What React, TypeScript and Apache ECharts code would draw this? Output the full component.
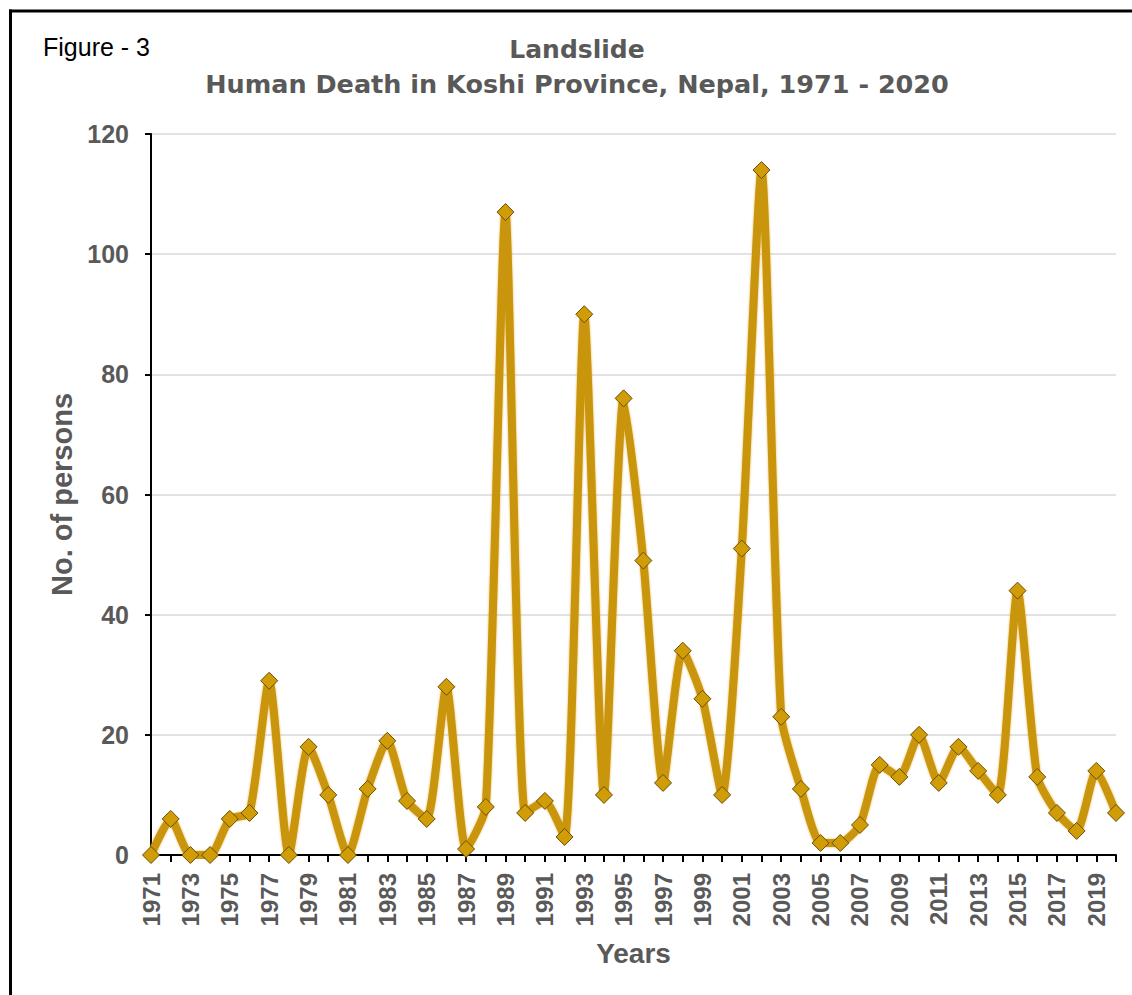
import React, { useEffect, useRef } from "react";
import * as echarts from "echarts";

const years: string[] = [
  "1971","1972","1973","1974","1975","1976","1977","1978","1979","1980",
  "1981","1982","1983","1984","1985","1986","1987","1988","1989","1990",
  "1991","1992","1993","1994","1995","1996","1997","1998","1999","2000",
  "2001","2002","2003","2004","2005","2006","2007","2008","2009","2010",
  "2011","2012","2013","2014","2015","2016","2017","2018","2019","2020",
];

const deaths: number[] = [
  0, 6, 0, 0, 6, 7, 29, 0, 18, 10,
  0, 11, 19, 9, 6, 28, 1, 8, 107, 7,
  9, 3, 90, 10, 76, 49, 12, 34, 26, 10,
  51, 114, 23, 11, 2, 2, 5, 15, 13, 20,
  12, 18, 14, 10, 44, 13, 7, 4, 14, 7,
];

const titleLine1 = "Landslide";
const titleLine2 = "Human Death in Koshi Province, Nepal, 1971 - 2020";
const figureLabel = "Figure - 3";
const yAxisName = "No. of persons";
const xAxisName = "Years";

export default function App() {
  const ref = useRef<HTMLDivElement>(null);

  useEffect(() => {
    if (!ref.current) return;
    const chart = echarts.init(ref.current, undefined, { renderer: "svg" });
    const grey = "#595959";
    const font = "'Liberation Sans', Arial, sans-serif";
    const wide = "'DejaVu Sans', sans-serif";
    chart.setOption({
      animation: false,
      backgroundColor: "#ffffff",
      grid: { left: 151, top: 134, right: 16, bottom: 140, containLabel: false },
      graphic: [
        { type: "line", shape: { x1: 10.5, y1: 9.5, x2: 10.5, y2: 1000 }, style: { stroke: "#000", lineWidth: 3 } },
        { type: "line", shape: { x1: 9, y1: 11, x2: 1140, y2: 11 }, style: { stroke: "#000", lineWidth: 3 } },
        {
          type: "text", left: 43, top: 34,
          style: { text: figureLabel, fill: "#000", font: `25px ${font}` },
        },
        {
          type: "text", x: 577, y: 37,
          style: { text: titleLine1, fill: grey, font: `bold 25px ${wide}`, textAlign: "center", textVerticalAlign: "top" },
        },
        {
          type: "text", x: 577, y: 71,
          style: { text: titleLine2, fill: grey, font: `bold 25.5px ${wide}`, textAlign: "center", textVerticalAlign: "top" },
        },
      ],
      xAxis: {
        type: "category",
        data: years,
        boundaryGap: false,
        name: xAxisName,
        nameLocation: "middle",
        nameGap: 84,
        nameTextStyle: { color: grey, fontWeight: "bold", fontSize: 28, fontFamily: font },
        axisLine: { lineStyle: { color: "#000", width: 2 } },
        axisTick: { show: true, interval: 0, length: 7, lineStyle: { color: "#000", width: 2 } },
        axisLabel: {
          interval: 1,
          rotate: 90,
          margin: 18,
          color: grey,
          fontWeight: "bold",
          fontSize: 24,
          fontFamily: font,
        },
        splitLine: { show: false },
      },
      yAxis: {
        type: "value",
        min: 0,
        max: 120,
        interval: 20,
        name: yAxisName,
        nameLocation: "middle",
        nameGap: 72,
        nameTextStyle: { color: grey, fontWeight: "bold", fontSize: 29, fontFamily: font },
        axisLine: { show: true, lineStyle: { color: "#000", width: 2 } },
        axisTick: { show: true, length: 6, lineStyle: { color: "#000", width: 2 } },
        axisLabel: { margin: 22, color: grey, fontWeight: "bold", fontSize: 25, fontFamily: font },
        splitLine: { show: true, lineStyle: { color: "#d9d9d9", width: 1.5 } },
      },
      series: [
        {
          type: "line",
          data: deaths,
          smooth: 0.2,
          symbol: "diamond",
          symbolSize: 17,
          showSymbol: true,
          showAllSymbol: true,
          lineStyle: { color: "#C8950A", width: 8, shadowColor: "rgba(230,160,20,0.8)", shadowBlur: 2 },
          itemStyle: { color: "#D09C08", borderColor: "#6B4E00", borderWidth: 1 },
          z: 3,
        },
      ],
    });
    return () => chart.dispose();
  }, []);

  return (
    <div
      ref={ref}
      style={{ position: "fixed", left: 0, top: 0, width: 1132, height: 995 }}
    />
  );
}
